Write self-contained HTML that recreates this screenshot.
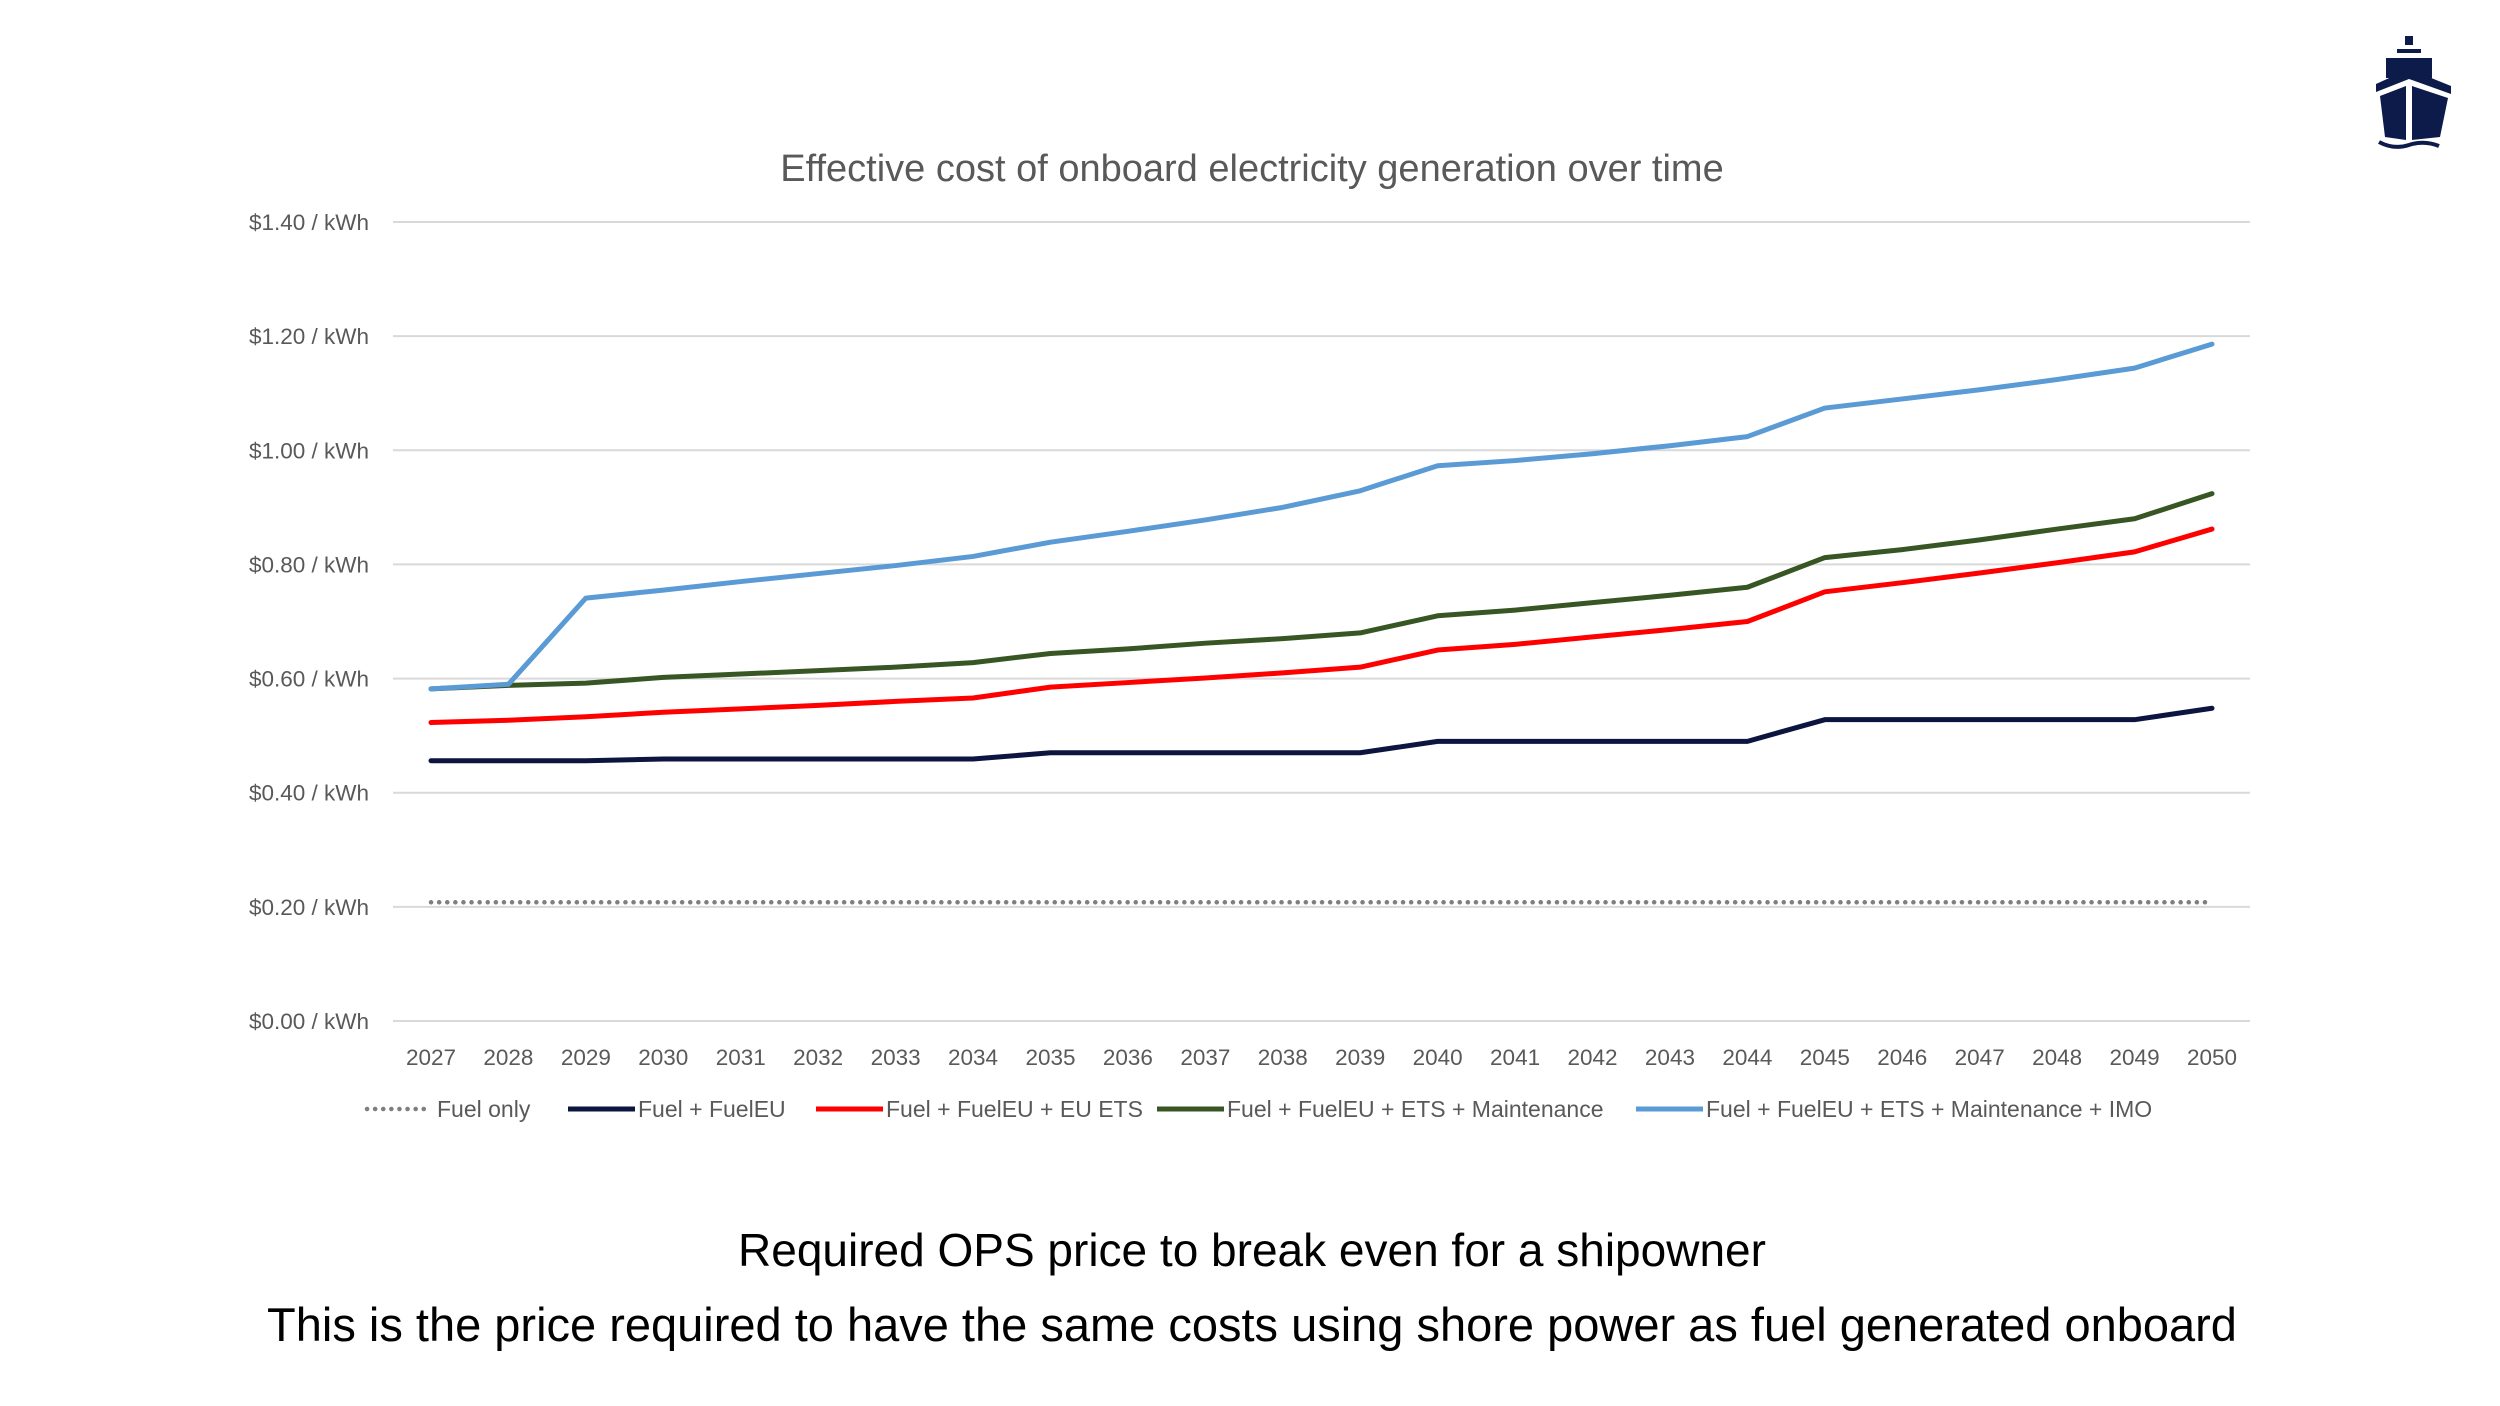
<!DOCTYPE html>
<html><head><meta charset="utf-8"><style>
body{margin:0;background:#fff;}
svg{display:block;font-family:"Liberation Sans",sans-serif;}
</style></head><body>
<svg id="chart" width="2500" height="1406" viewBox="0 0 2500 1406">
<g fill="#0d1b4a">
<rect x="2405" y="36" width="8" height="9"/>
<rect x="2397" y="49" width="24" height="4"/>
<rect x="2386" y="58" width="46" height="20"/>
<path d="M2376 84 L2409 69 L2451 86 L2451 94 L2409 79 L2376 92 Z"/>
<path d="M2380 96 L2406 86 L2406 140 L2385 137 Z"/>
<path d="M2412 86 L2448 98 L2440 137 L2412 140 Z"/>
<path d="M2379 142 Q2394 150 2409 145 Q2424 140 2439 146" stroke="#0d1b4a" stroke-width="4" fill="none"/>
</g>
<text x="1252" y="181" text-anchor="middle" font-size="38" fill="#595959">Effective cost of onboard electricity generation over time</text>
<g id="grid"></g><g id="series"></g><g id="xlabels"></g>
<g font-size="23" fill="#595959">
<line x1="367" y1="1109" x2="431" y2="1109" stroke="#7f7f7f" stroke-width="4.5" stroke-dasharray="0.1,8" stroke-linecap="round"/>
<text x="437" y="1117">Fuel only</text>
<line x1="568" y1="1109" x2="635" y2="1109" stroke="#0c1540" stroke-width="5"/>
<text x="638" y="1117">Fuel + FuelEU</text>
<line x1="816" y1="1109" x2="883" y2="1109" stroke="#ff0000" stroke-width="5"/>
<text x="886" y="1117">Fuel + FuelEU + EU ETS</text>
<line x1="1157" y1="1109" x2="1224" y2="1109" stroke="#375623" stroke-width="5"/>
<text x="1227" y="1117">Fuel + FuelEU + ETS + Maintenance</text>
<line x1="1636" y1="1109" x2="1703" y2="1109" stroke="#5b9bd5" stroke-width="5"/>
<text x="1706" y="1117">Fuel + FuelEU + ETS + Maintenance + IMO</text>
</g>
<text x="1252" y="1266" text-anchor="middle" font-size="46" fill="#000">Required OPS price to break even for a shipowner</text>
<text x="1252" y="1341" text-anchor="middle" font-size="47" fill="#000">This is the price required to have the same costs using shore power as fuel generated onboard</text>
</svg>
<script>
const years=[2027,2028,2029,2030,2031,2032,2033,2034,2035,2036,2037,2038,2039,2040,2041,2042,2043,2044,2045,2046,2047,2048,2049,2050];
const yTicks=[0,0.2,0.4,0.6,0.8,1.0,1.2,1.4];
const fuelOnly=[0.208,0.208,0.208,0.208,0.208,0.208,0.208,0.208,0.208,0.208,0.208,0.208,0.208,0.208,0.208,0.208,0.208,0.208,0.208,0.208,0.208,0.208,0.208,0.208];
const fuelEU=[0.456,0.456,0.456,0.459,0.459,0.459,0.459,0.459,0.47,0.47,0.47,0.47,0.47,0.49,0.49,0.49,0.49,0.49,0.528,0.528,0.528,0.528,0.528,0.548];
const euEts=[0.523,0.527,0.533,0.541,0.547,0.553,0.56,0.566,0.585,0.593,0.601,0.61,0.62,0.65,0.66,0.673,0.686,0.7,0.752,0.768,0.785,0.803,0.822,0.862];
const maintenance=[0.582,0.588,0.592,0.602,0.608,0.614,0.62,0.628,0.644,0.652,0.662,0.67,0.68,0.71,0.72,0.733,0.746,0.76,0.812,0.826,0.843,0.862,0.88,0.924];
const imo=[0.582,0.59,0.741,0.755,0.77,0.784,0.798,0.814,0.839,0.858,0.878,0.9,0.929,0.973,0.982,0.994,1.008,1.024,1.074,1.09,1.106,1.124,1.144,1.186];
const NS='http://www.w3.org/2000/svg';
const X0=431,X1=2212,Y0=1021,Y1=222;
function x(i){return X0+(X1-X0)*i/(years.length-1);}
function y(v){return Y0-(Y0-Y1)*v/1.4;}
const grid=document.getElementById('grid');
yTicks.forEach(t=>{
 const l=document.createElementNS(NS,'line');
 l.setAttribute('x1',393);l.setAttribute('x2',2250);l.setAttribute('y1',y(t));l.setAttribute('y2',y(t));
 l.setAttribute('stroke','#d9d9d9');l.setAttribute('stroke-width','2');
 
 
 grid.appendChild(l);
 const tx=document.createElementNS(NS,'text');
 tx.setAttribute('x',369);tx.setAttribute('y',y(t)+8);tx.setAttribute('text-anchor','end');
 tx.setAttribute('font-size','22.5');tx.setAttribute('fill','#595959');
 tx.textContent='$'+t.toFixed(2)+' / kWh';
 
 
 grid.appendChild(tx);
});
const xl=document.getElementById('xlabels');
years.forEach((yr,i)=>{
 const tx=document.createElementNS(NS,'text');
 tx.setAttribute('x',x(i));tx.setAttribute('y',1065);tx.setAttribute('text-anchor','middle');
 tx.setAttribute('font-size','22.5');tx.setAttribute('fill','#595959');
 tx.textContent=yr;
 
 
 xl.appendChild(tx);
});
const sg=document.getElementById('series');
[[fuelOnly,'#7f7f7f','series-fuel-only',true],[fuelEU,'#0c1540','series-fueleu'],[euEts,'#ff0000','series-eu-ets'],[maintenance,'#375623','series-maintenance'],[imo,'#5b9bd5','series-imo']].forEach(s=>{
 const p=document.createElementNS(NS,'polyline');
 p.setAttribute('points',s[0].map((v,i)=>x(i)+','+y(v)).join(' '));
 p.setAttribute('fill','none');p.setAttribute('stroke',s[1]);
 p.setAttribute('stroke-width',s[3]?'4.5':'5');p.setAttribute('stroke-linejoin','round');p.setAttribute('stroke-linecap','round');
 if(s[3])p.setAttribute('stroke-dasharray','0.1,8');
 
 
 sg.appendChild(p);
});
</script>
</body></html>
